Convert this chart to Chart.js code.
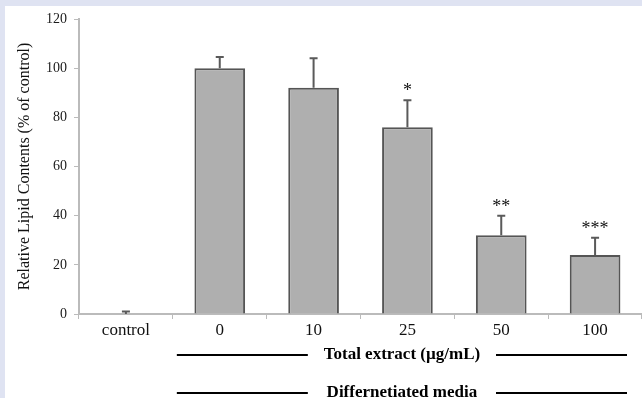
<!DOCTYPE html>
<html>
<head>
<meta charset="utf-8">
<script src="https://cdn.jsdelivr.net/npm/chart.js@4/dist/chart.umd.min.js"></script>
<style>
  html, body { margin: 0; padding: 0; background: #dfe3f2; }
  canvas { display: block; }
</style>
</head>
<body>
<canvas id="myChart" width="642" height="398"></canvas>
<script>
// values
const categories = ['control', '0', '10', '25', '50', '100'];
const lipid = [0, 100, 92, 76, 32, 24];
const errors = [1, 4.5, 12, 11, 8, 7];
const stars = ['', '', '', '*', '**', '***'];
const yTicks = [0, 20, 40, 60, 80, 100, 120];

const serif = "'Liberation Serif', 'Times New Roman', serif";

// white panel behind the chart
const panelBg = {
  id: 'panelBg',
  beforeDraw(chart) {
    const c = chart.ctx;
    c.save();
    c.fillStyle = '#ffffff';
    c.fillRect(5, 6, chart.width - 5, chart.height - 6);
    c.restore();
  }
};

// error bars + significance stars
const errorBars = {
  id: 'errorBars',
  afterDatasetsDraw(chart) {
    const c = chart.ctx;
    const x = chart.scales.x, y = chart.scales.y;
    c.save();
    c.strokeStyle = '#5a5a5a';
    c.lineWidth = 2;
    lipid.forEach((v, i) => {
      const px = x.getPixelForValue(i);
      const y0 = y.getPixelForValue(v);
      const y1 = y.getPixelForValue(v + errors[i]);
      c.beginPath();
      c.moveTo(px, y0);
      c.lineTo(px, y1);
      c.moveTo(px - 4, y1);
      c.lineTo(px + 4, y1);
      c.stroke();
      if (stars[i]) {
        c.fillStyle = '#111';
        c.font = '18px ' + serif;
        c.textAlign = 'center';
        c.textBaseline = 'alphabetic';
        c.fillText(stars[i], px, y1 - 4);
      }
    });
    c.restore();
  }
};

// group labels under the x axis
const groupLabels = {
  id: 'groupLabels',
  afterDraw(chart) {
    const c = chart.ctx;
    const x = chart.scales.x;
    const start = (x.getPixelForValue(0) + x.getPixelForValue(1)) / 2 + 4;
    const end = chart.chartArea.right - 15;
    const mid = (start + end) / 2;
    const seg = 131;
    c.save();
    c.font = 'bold 17px ' + serif;
    c.fillStyle = '#000';
    c.strokeStyle = '#000';
    c.lineWidth = 2;
    c.textAlign = 'center';
    c.textBaseline = 'middle';
    [['Total extract (\u00b5g/mL)', 355], ['Differnetiated media', 393]].forEach(([txt, ty]) => {
      c.fillText(txt, mid, ty);
      c.beginPath();
      c.moveTo(start, ty);
      c.lineTo(start + seg, ty);
      c.moveTo(end - seg, ty);
      c.lineTo(end, ty);
      c.stroke();
    });
    c.restore();
  }
};

var ctx = document.getElementById('myChart').getContext('2d');
var myChart = new Chart(ctx, {
  type: 'bar',
  data: {
    labels: categories,
    datasets: [{
      label: 'Relative Lipid Contents',
      data: lipid,
      backgroundColor: '#afafaf',
      borderColor: '#555555',
      borderWidth: 2,
      borderSkipped: 'bottom',
      categoryPercentage: 1,
      barPercentage: 0.54
    }]
  },
  options: {
    responsive: false,
    animation: false,
    devicePixelRatio: 1,
    layout: { padding: { top: 19, left: 0, right: 0, bottom: 0 } },
    plugins: {
      legend: { display: false },
      tooltip: { enabled: false }
    },
    scales: {
      x: {
        grid: { offset: true, drawOnChartArea: false, drawTicks: true, tickLength: 5, color: '#bbbbbb' },
        border: { color: '#bbbbbb', width: 2 },
        ticks: { font: { family: serif, size: 17 }, color: '#111', padding: 1 },
        afterFit(scale) { scale.height = 84; }
      },
      y: {
        min: 0,
        max: 120,
        afterBuildTicks(scale) { scale.ticks = yTicks.map(v => ({ value: v })); },
        grid: { drawOnChartArea: false, drawTicks: true, tickLength: 5, color: '#bbbbbb' },
        border: { color: '#bbbbbb', width: 2 },
        ticks: { font: { family: serif, size: 14 }, color: '#1a1a1a', padding: 7 },
        title: {
          display: true,
          text: 'Relative Lipid Contents (% of control)',
          font: { family: serif, size: 16 },
          color: '#111',
          padding: { top: 15, bottom: 0 }
        },
        afterFit(scale) { scale.width = 79; }
      }
    }
  },
  plugins: [panelBg, errorBars, groupLabels]
});
</script>
</body>
</html>
